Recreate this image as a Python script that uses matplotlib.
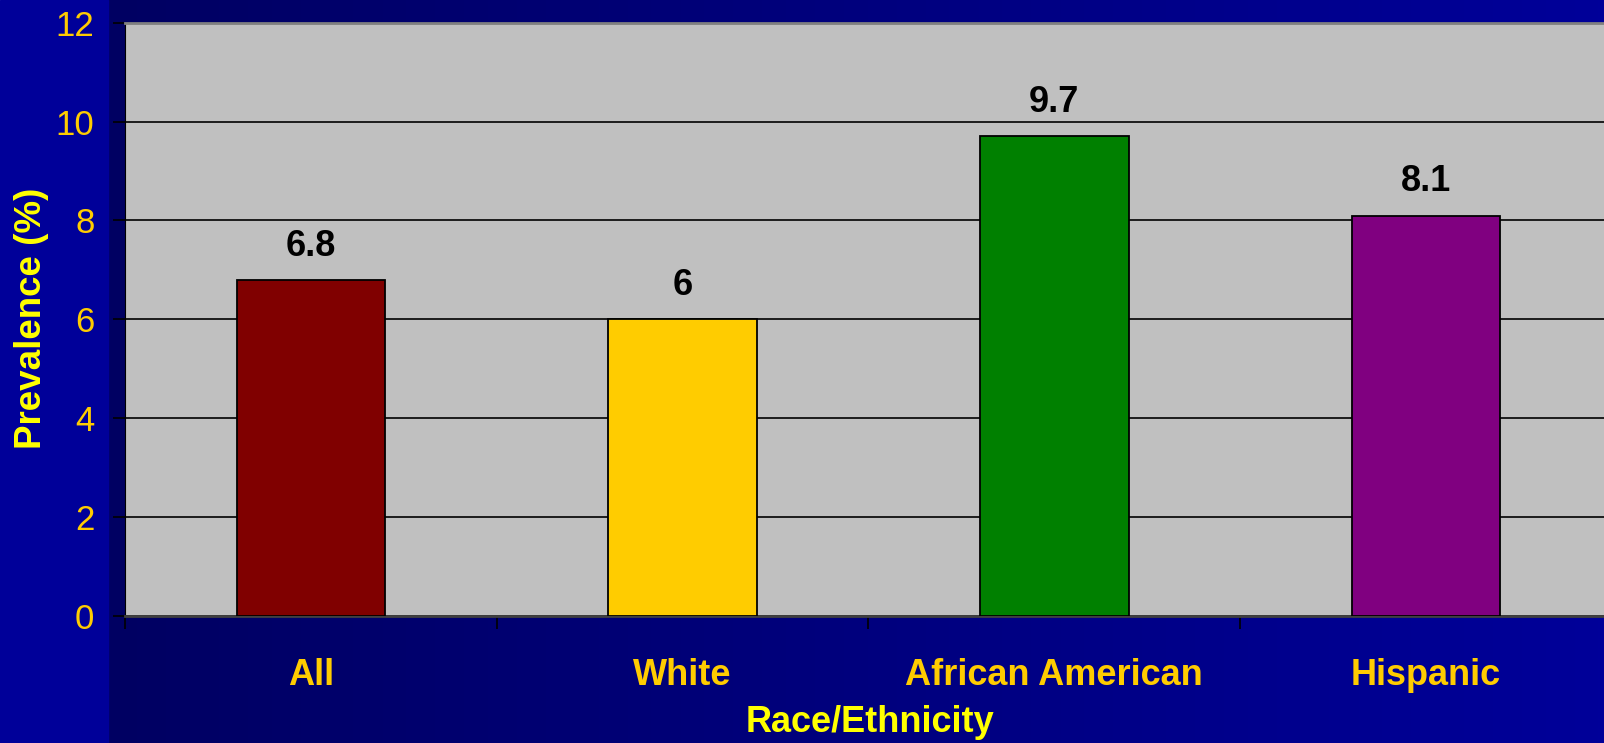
import matplotlib.pyplot as plt
import numpy as np

plt.rcParams['font.family'] = ['Liberation Sans', 'DejaVu Sans']

categories = ["All", "White", "African American", "Hispanic"]
prevalence = [6.8, 6.0, 9.7, 8.1]
value_labels = ["6.8", "6", "9.7", "8.1"]
bar_colors = ["#800000", "#FFCC00", "#008000", "#800080"]
y_ticks = [0, 2, 4, 6, 8, 10, 12]

W, H = 1604, 743
fig = plt.figure(figsize=(W / 100, H / 100), dpi=100)

# background: bright strip on the left, horizontal navy gradient elsewhere
bg = fig.add_axes([0, 0, 1, 1], zorder=-10)
bg.set_axis_off()
grad = np.linspace(0, 1, 256)
r = np.zeros_like(grad)
g = np.zeros_like(grad)
b = 0x62 / 255 + grad * (0x99 - 0x62) / 255
img = np.stack([r, g, b], axis=-1)[np.newaxis, :, :]
bg.imshow(img, extent=[108 / W, 1, 0, 1], aspect="auto")
bg.add_patch(plt.Rectangle((0, 0), 108 / W, 1, color="#000099"))
bg.set_xlim(0, 1)
bg.set_ylim(0, 1)

ax = fig.add_axes([125 / W, 1 - 616 / H, 1 - 125 / W, (616 - 22.7) / H])
ax.set_facecolor("#C0C0C0")

x = np.arange(len(categories))
bars = ax.bar(x, prevalence, width=0.4, color=bar_colors, edgecolor="black", linewidth=1.3, zorder=3)
for xi, v, lab in zip(x, prevalence, value_labels):
    ax.text(xi, v + 0.68, lab, ha="center", va="center", fontsize=26, fontweight="bold", color="black")

ax.set_xlim(-0.5, -0.5 + (W - 125) / 371.7)
ax.set_ylim(0, 12)
ax.set_yticks(y_ticks)
ax.yaxis.grid(True, color="black", linewidth=1.2, zorder=1)
ax.set_axisbelow(True)

ax.set_xticks(x)
ax.set_xticklabels(categories)
ax.set_xticks([-0.5, 0.5, 1.5, 2.5], minor=True)
ax.tick_params(axis="x", which="major", length=0, pad=30, labelsize=26, labelcolor="#FFCC00")
ax.tick_params(axis="x", which="minor", length=9, width=1.2, color="black", direction="out")
for t in ax.get_xticklabels():
    t.set_fontweight("bold")
ax.tick_params(axis="y", length=9, width=1.2, color="black", pad=13, labelsize=25, labelcolor="#FFCC00")

ax.spines["left"].set_color("black")
ax.spines["bottom"].set_color("#404040")
ax.spines["bottom"].set_linewidth(2)
ax.spines["top"].set_color("#808080")
ax.spines["top"].set_linewidth(2)
ax.spines["right"].set_visible(False)

fig.text(32 / W, 1 - 318 / H, "Prevalence (%)", rotation=90, ha="center", va="center",
         fontsize=26.5, fontweight="bold", color="#FFFF00")
fig.text(870 / W, 1 - 722 / H, "Race/Ethnicity", ha="center", va="center",
         fontsize=26, fontweight="bold", color="#FFFF00")

fig.savefig("out.png", dpi=100)
